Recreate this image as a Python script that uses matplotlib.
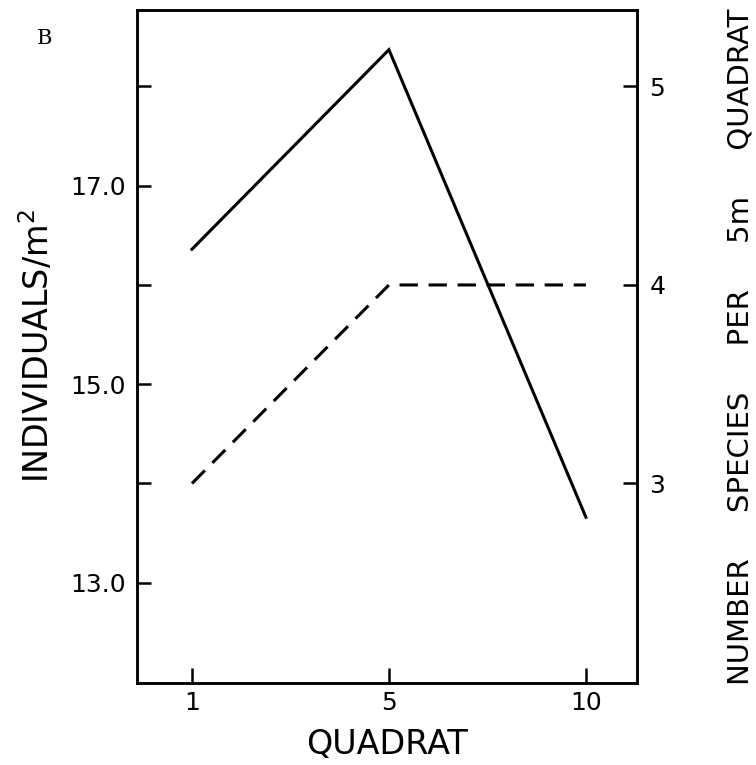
import matplotlib
matplotlib.use("Agg")
import matplotlib.pyplot as plt

# data
quadrats = ["1", "5", "10"]
individuals = [16.36, 18.37, 13.66]      # left axis, solid line
species = [3, 4, 4]                      # right axis, dashed line

left_major = [13, 15, 17]
left_minor = [14, 16, 18]
right_ticks = [3, 4, 5]

plt.rcParams["font.family"] = "DejaVu Sans"

fig = plt.figure(figsize=(7.56, 7.65), dpi=100)
ax = fig.add_axes([0.1812, 0.1072, 0.6613, 0.8797])
ax2 = ax.twinx()

pos = list(range(len(quadrats)))
ax.plot(pos, individuals, color="black", lw=2.2, solid_joinstyle="miter")
ax2.plot(pos, species, color="black", lw=2.2, dashes=(6, 3.5))

ax.set_xlim(-0.279, 2.259)
ylo, yhi = 11.99, 18.77
ax.set_ylim(ylo, yhi)
ax2.set_ylim(ylo / 2 - 4, yhi / 2 - 4)

ax.set_xticks(pos)
ax.set_xticklabels(quadrats)
ax.set_yticks(left_major)
ax.set_yticklabels([f"{v:.1f}" for v in left_major])
ax.set_yticks(left_minor, minor=True)
ax2.set_yticks(right_ticks)
ax2.set_yticklabels([str(v) for v in right_ticks])

for a in (ax, ax2):
    for s in a.spines.values():
        s.set_linewidth(1.8)
ax.tick_params(axis="x", which="both", direction="in", length=11, width=1.8,
               labelsize=18, pad=6, top=False)
ax.tick_params(axis="y", which="both", direction="in", length=10, width=1.8,
               labelsize=18, pad=8, right=False)
ax2.tick_params(axis="y", direction="in", length=10, width=1.8,
                labelsize=18, pad=9)

ax.set_xlabel("QUADRAT", fontsize=24, labelpad=9)
ax.set_ylabel("INDIVIDUALS/m$^2$", fontsize=24, labelpad=10)
ax2.set_ylabel("NUMBER     SPECIES     PER     5m     QUADRAT",
               fontsize=21, rotation=90, labelpad=44)

fig.text(44 / 756, 1 - 38 / 765, "B", family="DejaVu Serif", fontsize=15,
         ha="center", va="center")

fig.savefig("out.png", dpi=100)
